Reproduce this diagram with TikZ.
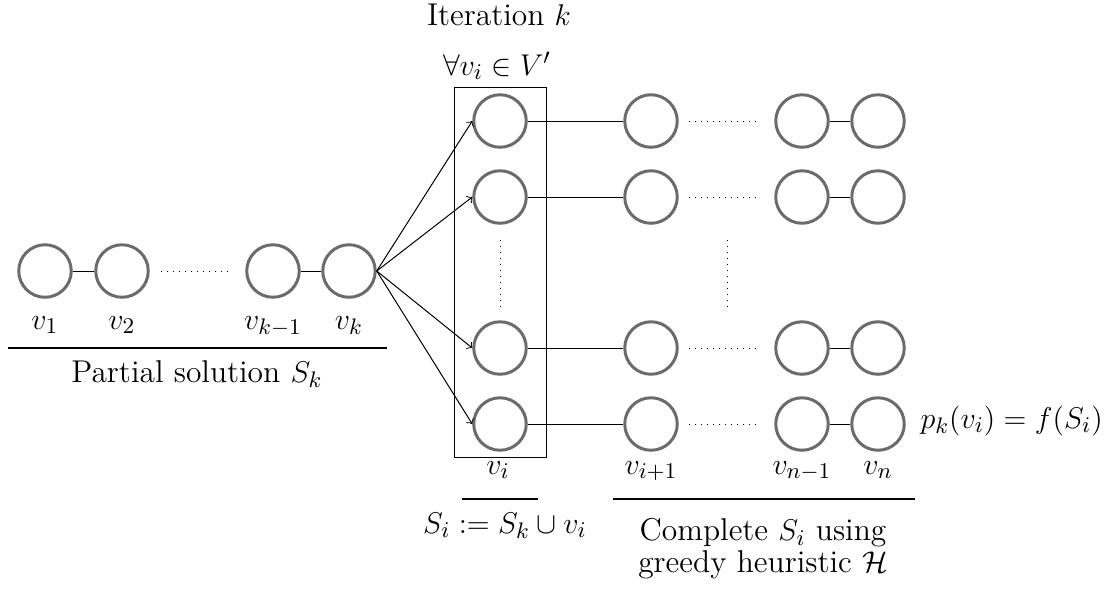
\documentclass[tikz,border=0pt]{standalone}
\usepackage{amssymb}
\begin{document}
\begin{tikzpicture}[x=0.4pt,y=-0.4pt,
  vert/.style={circle,draw=black!58,line width=1.2pt,minimum size=21pt,inner sep=0pt},
  lbl/.style={font=\fontsize{12.6}{12.6}\selectfont,inner sep=0pt,anchor=base},
  edge/.style={line width=0.4pt},
  dots/.style={dotted,line width=0.4pt}]
\useasboundingbox (0,0) rectangle (1112,589);
% left row
\node[vert] (l1) at (45,271) {};
\node[vert] (l2) at (122,271) {};
\node[vert] (l3) at (273,271) {};
\node[vert] (l4) at (349,271) {};
\draw[edge] (l1) -- (l2);
\draw[edge] (l3) -- (l4);
\draw[dots] ([xshift=4.4pt]l2.east) -- ([xshift=-5.6pt]l3.west);
\node[lbl] (t1) at (45,329) {$v_1$};
\node[lbl] (t2) at (122,329) {$v_2$};
\node[lbl] (t3) at (273,329) {$v_{k-1}$};
\node[lbl] (t4) at (349,329) {$v_k$};
\coordinate (ps1) at (8,348);
\coordinate (ps2) at (387,348);
\draw[line width=0.8pt] (ps1) -- (ps2);
\node[lbl] (ps) at (197,382) {Partial solution $S_k$};
% box
\node[draw,line width=0.4pt,minimum width=36.8pt,minimum height=148pt,inner sep=0pt] (box) at (500,272) {};
\node[lbl] (it) at (499,25) {Iteration $k$};
\node[lbl] (fa) at (497,75) {$\forall v_i\in V'$};
% rows
\foreach \r/\y in {1/121,2/197,3/348,4/424}{
  \node[vert] (m\r) at (500,\y) {};
  \node[vert] (a\r) at (651,\y) {};
  \node[vert] (b\r) at (802,\y) {};
  \node[vert] (c\r) at (878,\y) {};
  \draw[edge] (m\r) -- (a\r);
  \draw[edge] (b\r) -- (c\r);
  \draw[dots] ([xshift=4pt]a\r.east) -- ([xshift=-6pt]b\r.west);
  \draw[edge,->] (l4.east) -- (m\r.west);
}
\coordinate (vd1) at (500,240);
\coordinate (vd2) at (500,308);
\coordinate (vd3) at (727,240);
\coordinate (vd4) at (727,308);
\draw[dots] (vd1) -- (vd2);
\draw[dots] (vd3) -- (vd4);
% bottom labels
\node[lbl] (ti) at (498,474) {$v_i$};
\node[lbl] (ti1) at (651,474) {$v_{i+1}$};
\node[lbl] (tn1) at (802,474) {$v_{n-1}$};
\node[lbl] (tn) at (878,474) {$v_n$};
\coordinate (u1) at (462,499);
\coordinate (u2) at (538,499);
\coordinate (u3) at (613,499);
\coordinate (u4) at (915,499);
\draw[line width=0.8pt] (u1) -- (u2);
\draw[line width=0.8pt] (u3) -- (u4);
\node[lbl] (si) at (505,533) {$S_i := S_k\cup v_i$};
\node[lbl,anchor=north,align=center] (cs) at (763,518) {Complete $S_i$ using\\greedy heuristic $\mathcal{H}$};
\node[lbl,anchor=base west] (pk) at (920,428) {$p_k(v_i)=f(S_i)$};
\end{tikzpicture}
\end{document}
